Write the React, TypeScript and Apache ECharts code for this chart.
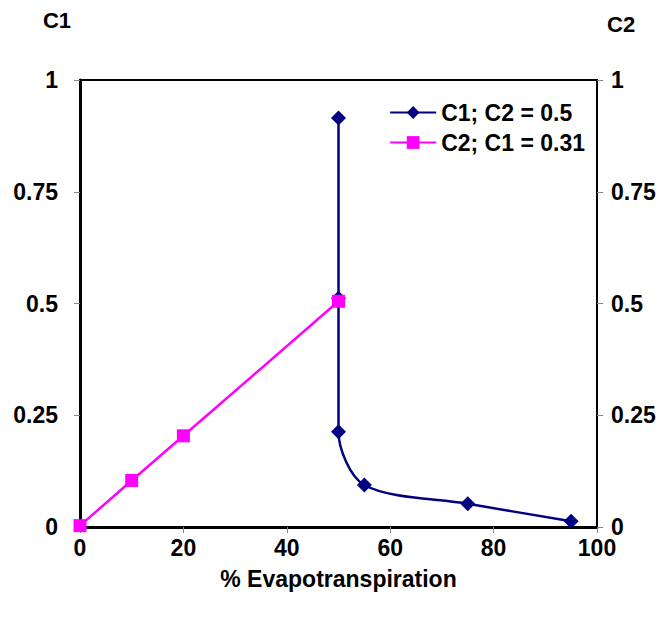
import React, { useEffect, useRef } from "react";
import * as echarts from "echarts";

const c1X = [50, 50, 50, 55, 75, 95];
const c1Y = [0.915, 0.512, 0.213, 0.094, 0.052, 0.013];
const c2X = [0, 10, 20, 50];
const c2Y = [0.003, 0.104, 0.204, 0.505];
const seriesNames = ["C1; C2 = 0.5", "C2; C1 = 0.31"];
const yTicks = [0, 0.25, 0.5, 0.75, 1];

const font = "Liberation Sans, Arial, sans-serif";
const FS = 23;

export default function App() {
  const ref = useRef<HTMLDivElement>(null);
  useEffect(() => {
    const chart = echarts.init(ref.current!, null, { renderer: "svg" });
    const yAxisBase = (pos: "left" | "right", name: string) => ({
      type: "value",
      position: pos,
      min: 0,
      max: 1,
      interval: 0.25,
      name,
      nameLocation: "end",
      nameGap: pos === "left" ? 49 : 45,
      nameTextStyle: {
        fontFamily: font,
        fontWeight: "bold",
        fontSize: 22,
        color: "#000",
        align: pos === "left" ? "right" : "left",
        padding: pos === "left" ? [0, 9, 0, 0] : [0, 0, 0, 10],
      },
      axisLine: {
        show: true,
        lineStyle: { color: "#000", width: pos === "left" ? 3 : 2 },
      },
      axisTick: {
        show: true,
        inside: false,
        length: 6,
        lineStyle: { color: "#888", width: 1 },
      },
      splitLine: { show: false },
      axisLabel: {
        fontFamily: font,
        fontWeight: "bold",
        fontSize: FS,
        color: "#000",
        margin: pos === "left" ? 22 : 14,
        formatter: (v: number) => (yTicks.includes(v) ? String(v) : ""),
      },
    });
    chart.setOption({
      animation: false,
      backgroundColor: "#fff",
      grid: {
        left: 80,
        right: 71,
        top: 80,
        bottom: 90,
        show: true,
        borderColor: "#000",
        borderWidth: 2,
        backgroundColor: "transparent",
      },
      legend: {
        right: 78,
        top: 96,
        orient: "vertical",
        itemWidth: 46,
        itemHeight: 16,
        itemGap: 7,
        textStyle: {
          fontFamily: font,
          fontWeight: "bold",
          fontSize: 23,
          color: "#000",
        },
        data: seriesNames,
      },
      xAxis: {
        type: "value",
        min: 0,
        max: 100,
        interval: 20,
        name: "% Evapotranspiration",
        nameLocation: "middle",
        nameGap: 40,
        nameTextStyle: {
          fontFamily: font,
          fontWeight: "bold",
          fontSize: 23,
          color: "#000",
        },
        axisLine: { show: true, lineStyle: { color: "#000", width: 3 } },
        axisTick: {
          show: true,
          inside: false,
          length: 6,
          lineStyle: { color: "#888", width: 1 },
        },
        splitLine: { show: false },
        axisLabel: {
          fontFamily: font,
          fontWeight: "bold",
          fontSize: FS,
          color: "#000",
          margin: 9,
        },
      },
      yAxis: [yAxisBase("left", "C1"), yAxisBase("right", "C2")],
      series: [
        {
          name: seriesNames[0],
          type: "line",
          smooth: 0.3,
          data: c1X.map((x, i) => [x, c1Y[i]]),
          symbol: "diamond",
          symbolSize: 15,
          lineStyle: { color: "#000080", width: 2.5 },
          itemStyle: { color: "#000080" },
          z: 3,
        },
        {
          name: seriesNames[1],
          type: "line",
          data: c2X.map((x, i) => [x, c2Y[i]]),
          symbol: "rect",
          symbolSize: 13,
          lineStyle: { color: "#FF00FF", width: 2.5 },
          itemStyle: { color: "#FF00FF" },
          z: 4,
        },
      ],
    });
    return () => chart.dispose();
  }, []);
  return <div ref={ref} style={{ width: 668, height: 617, margin: -8 }} />;
}
